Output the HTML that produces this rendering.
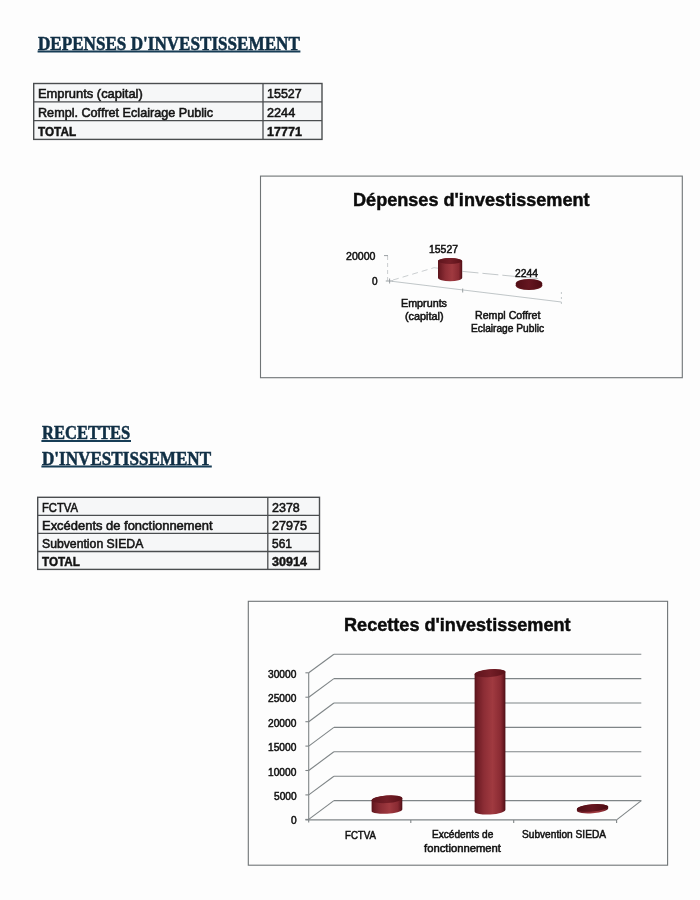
<!DOCTYPE html>
<html lang="fr"><head><meta charset="utf-8"><title>Investissement</title>
<style>
html,body{margin:0;padding:0;}
body{width:700px;height:900px;position:relative;overflow:hidden;background:#fdfdfd;font-family:"Liberation Sans", sans-serif;}
.t{position:absolute;white-space:nowrap;line-height:1;transform-origin:0 0;margin:0;padding:0;}
.s{font-family:"Liberation Serif", serif;}
svg{position:absolute;left:0;top:0;}
#pg{position:absolute;left:0;top:0;width:700px;height:900px;filter:blur(0.45px);}
</style></head><body><div id="pg">
<svg width="700" height="900" viewBox="0 0 700 900">
<defs>
<linearGradient id="gb" x1="0" y1="0" x2="1" y2="0">
<stop offset="0" stop-color="#57131a"/><stop offset="0.08" stop-color="#6d1c24"/><stop offset="0.3" stop-color="#8c2d35"/><stop offset="0.58" stop-color="#a03a40"/><stop offset="0.85" stop-color="#892a32"/><stop offset="0.95" stop-color="#651820"/><stop offset="1" stop-color="#4a0e14"/>
</linearGradient>
<linearGradient id="gd" x1="0" y1="0" x2="1" y2="0">
<stop offset="0" stop-color="#500d15"/><stop offset="0.5" stop-color="#651620"/><stop offset="1" stop-color="#4c0c13"/>
</linearGradient>
<linearGradient id="gt" x1="0" y1="0" x2="1" y2="0">
<stop offset="0" stop-color="#5e141c"/><stop offset="0.5" stop-color="#741e27"/><stop offset="1" stop-color="#5a1118"/>
</linearGradient>
</defs>
<line x1="37.6" y1="51.6" x2="300.4" y2="51.6" stroke="#173d56" stroke-width="2.00" />
<line x1="41.4" y1="441.0" x2="131.0" y2="441.0" stroke="#173d56" stroke-width="2.00" />
<line x1="41.4" y1="466.6" x2="211.8" y2="466.6" stroke="#173d56" stroke-width="2.00" />
<rect x="33.7" y="83.5" width="288.3" height="55.9" fill="#f6f7f8"/>
<rect x="33.7" y="83.5" width="288.3" height="55.9" fill="none" stroke="#4a4d4f" stroke-width="1.40"/>
<line x1="33.7" y1="101.9" x2="322.0" y2="101.9" stroke="#4a4d4f" stroke-width="1.30" />
<line x1="33.7" y1="120.7" x2="322.0" y2="120.7" stroke="#4a4d4f" stroke-width="1.30" />
<line x1="263.0" y1="83.5" x2="263.0" y2="139.4" stroke="#4a4d4f" stroke-width="1.30" />
<rect x="37.7" y="497.3" width="281.8" height="72.1" fill="#f6f7f8"/>
<rect x="37.7" y="497.3" width="281.8" height="72.1" fill="none" stroke="#4a4d4f" stroke-width="1.40"/>
<line x1="37.7" y1="515.3" x2="319.5" y2="515.3" stroke="#4a4d4f" stroke-width="1.30" />
<line x1="37.7" y1="533.4" x2="319.5" y2="533.4" stroke="#4a4d4f" stroke-width="1.30" />
<line x1="37.7" y1="551.5" x2="319.5" y2="551.5" stroke="#4a4d4f" stroke-width="1.30" />
<line x1="267.8" y1="497.3" x2="267.8" y2="569.4" stroke="#4a4d4f" stroke-width="1.30" />
<rect x="260.5" y="176.1" width="421.8" height="201.6" fill="none" stroke="#6f7476" stroke-width="1.10"/>
<rect x="248.3" y="601.3" width="419.3" height="263.9" fill="none" stroke="#6f7476" stroke-width="1.10"/>
<line x1="387.6" y1="256.0" x2="387.6" y2="280.5" stroke="#b4babd" stroke-width="0.70" stroke-dasharray="4 3"/>
<line x1="384.0" y1="255.6" x2="388.0" y2="255.6" stroke="#8d9497" stroke-width="0.90" />
<line x1="385.8" y1="281.0" x2="393.0" y2="281.0" stroke="#8d9497" stroke-width="0.90" />
<line x1="389.6" y1="278.5" x2="389.6" y2="283.5" stroke="#8d9497" stroke-width="0.90" />
<line x1="393.0" y1="280.0" x2="434.0" y2="267.7" stroke="#b4babd" stroke-width="0.70" stroke-dasharray="6 4"/>
<line x1="434.0" y1="267.7" x2="438.0" y2="268.2" stroke="#b4babd" stroke-width="0.70" />
<line x1="462.5" y1="271.4" x2="540.0" y2="278.8" stroke="#b4babd" stroke-width="0.80" stroke-dasharray="16 4"/>
<line x1="392.0" y1="281.3" x2="561.4" y2="302.0" stroke="#b0b7ba" stroke-width="0.80" />
<line x1="462.7" y1="288.5" x2="462.7" y2="292.5" stroke="#8d9497" stroke-width="0.90" />
<line x1="561.4" y1="292.0" x2="561.4" y2="304.5" stroke="#b4babd" stroke-width="0.80" stroke-dasharray="2 3"/>
<path d="M438.0 261.0 L438.0 277.8 A12.1 3.5 0.0 0 0 462.2 277.8 L462.2 261.0 A12.1 3.0 0.0 0 0 438.0 261.0 Z" fill="url(#gb)"/>
<ellipse cx="450.1" cy="261.0" rx="12.1" ry="3.0" transform="rotate(0.0 450.1 261.0)" fill="url(#gt)"/>
<ellipse cx="529" cy="285.2" rx="13.3" ry="4.9" fill="#5e141b"/>
<ellipse cx="529" cy="283.8" rx="13.3" ry="4.9" fill="url(#gd)"/>
<line x1="333.9" y1="654.2" x2="641.3" y2="654.2" stroke="#7f8587" stroke-width="1.10" />
<line x1="308.7" y1="672.8" x2="333.9" y2="654.2" stroke="#7f8587" stroke-width="1.10" />
<line x1="305.4" y1="672.8" x2="308.7" y2="672.8" stroke="#7f8587" stroke-width="1.10" />
<line x1="333.9" y1="678.6" x2="641.3" y2="678.6" stroke="#7f8587" stroke-width="1.10" />
<line x1="308.7" y1="697.2" x2="333.9" y2="678.6" stroke="#7f8587" stroke-width="1.10" />
<line x1="305.4" y1="697.2" x2="308.7" y2="697.2" stroke="#7f8587" stroke-width="1.10" />
<line x1="333.9" y1="703.0" x2="641.3" y2="703.0" stroke="#7f8587" stroke-width="1.10" />
<line x1="308.7" y1="721.7" x2="333.9" y2="703.0" stroke="#7f8587" stroke-width="1.10" />
<line x1="305.4" y1="721.7" x2="308.7" y2="721.7" stroke="#7f8587" stroke-width="1.10" />
<line x1="333.9" y1="727.4" x2="641.3" y2="727.4" stroke="#7f8587" stroke-width="1.10" />
<line x1="308.7" y1="746.1" x2="333.9" y2="727.4" stroke="#7f8587" stroke-width="1.10" />
<line x1="305.4" y1="746.1" x2="308.7" y2="746.1" stroke="#7f8587" stroke-width="1.10" />
<line x1="333.9" y1="751.8" x2="641.3" y2="751.8" stroke="#7f8587" stroke-width="1.10" />
<line x1="308.7" y1="770.5" x2="333.9" y2="751.8" stroke="#7f8587" stroke-width="1.10" />
<line x1="305.4" y1="770.5" x2="308.7" y2="770.5" stroke="#7f8587" stroke-width="1.10" />
<line x1="333.9" y1="776.2" x2="641.3" y2="776.2" stroke="#7f8587" stroke-width="1.10" />
<line x1="308.7" y1="794.9" x2="333.9" y2="776.2" stroke="#7f8587" stroke-width="1.10" />
<line x1="305.4" y1="794.9" x2="308.7" y2="794.9" stroke="#7f8587" stroke-width="1.10" />
<line x1="333.9" y1="800.6" x2="641.3" y2="800.6" stroke="#7f8587" stroke-width="1.10" />
<line x1="308.7" y1="819.4" x2="333.9" y2="800.6" stroke="#7f8587" stroke-width="1.10" />
<line x1="305.4" y1="819.4" x2="308.7" y2="819.4" stroke="#7f8587" stroke-width="1.10" />
<line x1="308.7" y1="672.8" x2="308.7" y2="822.5" stroke="#7f8587" stroke-width="1.10" />
<line x1="305.4" y1="819.9" x2="616.6" y2="819.9" stroke="#7f8587" stroke-width="1.10" />
<line x1="616.6" y1="819.9" x2="641.3" y2="800.6" stroke="#7f8587" stroke-width="1.10" />
<line x1="410.8" y1="819.9" x2="410.8" y2="823.0" stroke="#7f8587" stroke-width="1.10" />
<line x1="513.7" y1="819.9" x2="513.7" y2="823.0" stroke="#7f8587" stroke-width="1.10" />
<line x1="616.6" y1="819.9" x2="616.6" y2="823.0" stroke="#7f8587" stroke-width="1.10" />
<path d="M371.6 800.3 L371.6 811.2 A15.4 3.6 -3.0 0 0 402.3 809.6 L402.3 798.2 A15.4 3.8 -3.9 0 0 371.6 800.3 Z" fill="url(#gb)"/>
<ellipse cx="387.0" cy="799.2" rx="15.4" ry="3.8" transform="rotate(-3.9 387.0 799.2)" fill="url(#gt)"/>
<path d="M474.6 674.4 L474.6 811.4 A15.4 4.0 -3.3 0 0 505.4 809.6 L505.4 671.8 A15.5 3.9 -4.8 0 0 474.6 674.4 Z" fill="url(#gb)"/>
<ellipse cx="490.0" cy="673.1" rx="15.5" ry="3.9" transform="rotate(-4.8 490.0 673.1)" fill="url(#gt)"/>
<path d="M576.9 809.2 L576.9 810.8 A15.7 3.7 -4.7 0 0 608.2 808.2 L608.2 806.6 A15.7 3.7 -4.7 0 0 576.9 809.2 Z" fill="url(#gb)"/>
<ellipse cx="592.5" cy="807.9" rx="15.7" ry="3.7" transform="rotate(-4.7 592.5 807.9)" fill="url(#gd)"/>
</svg>
<div class="t s" id="t0" style="left:38.2px;top:34.9px;font-size:18.3px;font-weight:700;color:#102f45;-webkit-text-stroke:0.50px #102f45;transform:scaleX(0.9353);">DEPENSES D'INVESTISSEMENT</div>
<div class="t s" id="t1" style="left:42.3px;top:424.4px;font-size:18.3px;font-weight:700;color:#102f45;-webkit-text-stroke:0.50px #102f45;transform:scaleX(0.9052);">RECETTES</div>
<div class="t s" id="t2" style="left:42.3px;top:449.9px;font-size:18.3px;font-weight:700;color:#102f45;-webkit-text-stroke:0.50px #102f45;transform:scaleX(0.9351);">D'INVESTISSEMENT</div>
<div class="t" id="t3" style="left:38.3px;top:88.3px;font-size:12.3px;font-weight:400;color:#141414;-webkit-text-stroke:0.55px #141414;transform:scaleX(1.0503);">Emprunts (capital)</div>
<div class="t" id="t4" style="left:38.3px;top:106.8px;font-size:12.3px;font-weight:400;color:#141414;-webkit-text-stroke:0.55px #141414;transform:scaleX(1.0261);">Rempl. Coffret Eclairage Public</div>
<div class="t" id="t5" style="left:38.3px;top:125.6px;font-size:12.3px;font-weight:700;color:#141414;-webkit-text-stroke:0.45px #141414;transform:scaleX(0.9559);">TOTAL</div>
<div class="t" id="t6" style="left:267.4px;top:88.3px;font-size:12.3px;font-weight:400;color:#141414;-webkit-text-stroke:0.55px #141414;transform:scaleX(1.0145);">15527</div>
<div class="t" id="t7" style="left:267.4px;top:106.8px;font-size:12.3px;font-weight:400;color:#141414;-webkit-text-stroke:0.55px #141414;transform:scaleX(1.0307);">2244</div>
<div class="t" id="t8" style="left:267.4px;top:125.6px;font-size:12.3px;font-weight:700;color:#141414;-webkit-text-stroke:0.45px #141414;transform:scaleX(1.0204);">17771</div>
<div class="t" id="t9" style="left:42.3px;top:501.5px;font-size:12.3px;font-weight:400;color:#141414;-webkit-text-stroke:0.55px #141414;transform:scaleX(0.9136);">FCTVA</div>
<div class="t" id="t10" style="left:42.3px;top:519.6px;font-size:12.3px;font-weight:400;color:#141414;-webkit-text-stroke:0.55px #141414;transform:scaleX(1.0530);">Excédents de fonctionnement</div>
<div class="t" id="t11" style="left:42.3px;top:537.5px;font-size:12.3px;font-weight:400;color:#141414;-webkit-text-stroke:0.55px #141414;transform:scaleX(0.9945);">Subvention SIEDA</div>
<div class="t" id="t12" style="left:42.3px;top:555.6px;font-size:12.3px;font-weight:700;color:#141414;-webkit-text-stroke:0.45px #141414;transform:scaleX(0.9508);">TOTAL</div>
<div class="t" id="t13" style="left:271.9px;top:501.5px;font-size:12.3px;font-weight:400;color:#141414;-webkit-text-stroke:0.55px #141414;transform:scaleX(1.0161);">2378</div>
<div class="t" id="t14" style="left:271.9px;top:519.6px;font-size:12.3px;font-weight:400;color:#141414;-webkit-text-stroke:0.55px #141414;transform:scaleX(1.0204);">27975</div>
<div class="t" id="t15" style="left:271.9px;top:537.5px;font-size:12.3px;font-weight:400;color:#141414;-webkit-text-stroke:0.55px #141414;transform:scaleX(0.9741);">561</div>
<div class="t" id="t16" style="left:271.9px;top:555.6px;font-size:12.3px;font-weight:700;color:#141414;-webkit-text-stroke:0.45px #141414;transform:scaleX(1.0204);">30914</div>
<div class="t" id="t17" style="left:353.0px;top:191.6px;font-size:17.8px;font-weight:700;color:#0c0c0c;-webkit-text-stroke:0.45px #0c0c0c;transform:scaleX(1.0175);">Dépenses d'investissement</div>
<div class="t" id="t18" style="left:345.6px;top:251.8px;font-size:10.3px;font-weight:400;color:#111;-webkit-text-stroke:0.50px #111;transform:scaleX(1.0265);">20000</div>
<div class="t" id="t19" style="left:372.0px;top:277.0px;font-size:10.3px;font-weight:400;color:#111;-webkit-text-stroke:0.50px #111;transform:scaleX(0.9766);">0</div>
<div class="t" id="t20" style="left:429.0px;top:244.6px;font-size:10.3px;font-weight:400;color:#111;-webkit-text-stroke:0.50px #111;transform:scaleX(1.0125);">15527</div>
<div class="t" id="t21" style="left:515.0px;top:269.4px;font-size:10.3px;font-weight:400;color:#111;-webkit-text-stroke:0.50px #111;transform:scaleX(1.0034);">2244</div>
<div class="t" id="t22" style="left:401.0px;top:298.8px;font-size:10.3px;font-weight:400;color:#111;-webkit-text-stroke:0.50px #111;transform:scaleX(1.0436);">Emprunts</div>
<div class="t" id="t23" style="left:405.0px;top:312.0px;font-size:10.3px;font-weight:400;color:#111;-webkit-text-stroke:0.50px #111;transform:scaleX(1.0539);">(capital)</div>
<div class="t" id="t24" style="left:475.0px;top:310.6px;font-size:10.3px;font-weight:400;color:#111;-webkit-text-stroke:0.50px #111;transform:scaleX(1.0325);">Rempl Coffret</div>
<div class="t" id="t25" style="left:471.0px;top:324.4px;font-size:10.3px;font-weight:400;color:#111;-webkit-text-stroke:0.50px #111;transform:scaleX(0.9886);">Eclairage Public</div>
<div class="t" id="t26" style="left:344.2px;top:617.1px;font-size:17.8px;font-weight:700;color:#0c0c0c;-webkit-text-stroke:0.45px #0c0c0c;transform:scaleX(1.0178);">Recettes d'investissement</div>
<div class="t" id="t27" style="left:268.4px;top:669.8px;font-size:10.3px;font-weight:400;color:#111;-webkit-text-stroke:0.50px #111;transform:scaleX(0.9881);">30000</div>
<div class="t" id="t28" style="left:268.4px;top:694.2px;font-size:10.3px;font-weight:400;color:#111;-webkit-text-stroke:0.50px #111;transform:scaleX(0.9881);">25000</div>
<div class="t" id="t29" style="left:268.4px;top:718.7px;font-size:10.3px;font-weight:400;color:#111;-webkit-text-stroke:0.50px #111;transform:scaleX(0.9881);">20000</div>
<div class="t" id="t30" style="left:268.4px;top:743.1px;font-size:10.3px;font-weight:400;color:#111;-webkit-text-stroke:0.50px #111;transform:scaleX(0.9881);">15000</div>
<div class="t" id="t31" style="left:268.4px;top:767.5px;font-size:10.3px;font-weight:400;color:#111;-webkit-text-stroke:0.50px #111;transform:scaleX(0.9881);">10000</div>
<div class="t" id="t32" style="left:274.1px;top:791.9px;font-size:10.3px;font-weight:400;color:#111;-webkit-text-stroke:0.50px #111;transform:scaleX(0.9877);">5000</div>
<div class="t" id="t33" style="left:291.0px;top:816.4px;font-size:10.3px;font-weight:400;color:#111;-webkit-text-stroke:0.50px #111;transform:scaleX(0.9870);">0</div>
<div class="t" id="t34" style="left:344.8px;top:830.6px;font-size:10.3px;font-weight:400;color:#111;-webkit-text-stroke:0.50px #111;transform:scaleX(0.9364);">FCTVA</div>
<div class="t" id="t35" style="left:431.7px;top:830.4px;font-size:10.3px;font-weight:400;color:#111;-webkit-text-stroke:0.50px #111;transform:scaleX(0.9823);">Excédents de</div>
<div class="t" id="t36" style="left:424.0px;top:844.0px;font-size:10.3px;font-weight:400;color:#111;-webkit-text-stroke:0.50px #111;transform:scaleX(1.0934);">fonctionnement</div>
<div class="t" id="t37" style="left:522.3px;top:830.4px;font-size:10.3px;font-weight:400;color:#111;-webkit-text-stroke:0.50px #111;transform:scaleX(0.9848);">Subvention SIEDA</div>
</div></body></html>
